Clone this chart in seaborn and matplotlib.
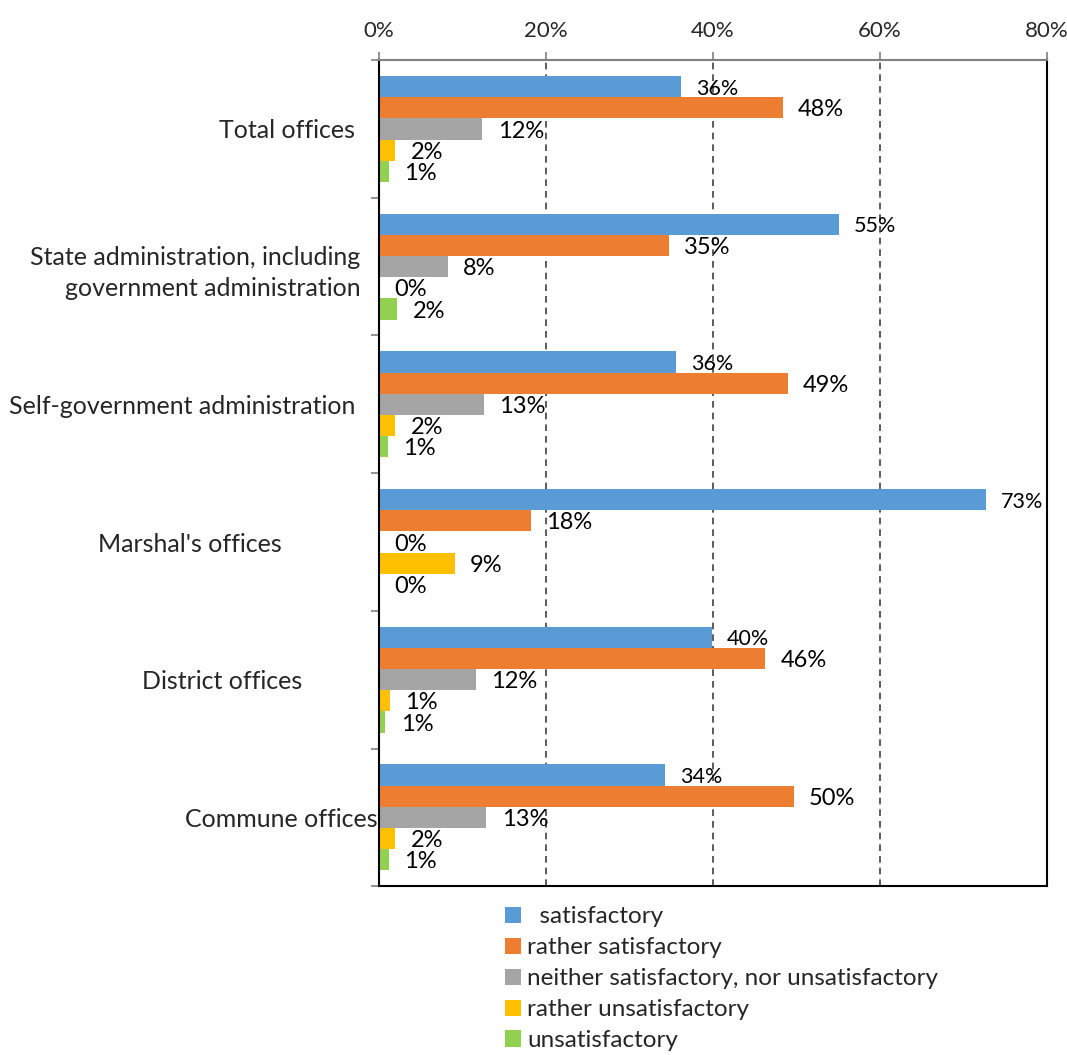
import pandas as pd
import numpy as np
import matplotlib.pyplot as plt
import seaborn as sns
from matplotlib.patches import Patch

categories = ["Total offices",
              "State administration, including\ngovernment administration",
              "Self-government administration",
              "Marshal's offices",
              "District offices",
              "Commune offices"]

satisfactory = [36.2, 55.1, 35.6, 72.7, 39.9, 34.3]
rather_satisfactory = [48.4, 34.7, 49.0, 18.2, 46.3, 49.7]
neither = [12.4, 8.3, 12.6, 0.0, 11.6, 12.9]
rather_unsatisfactory = [2.0, 0.0, 2.0, 9.1, 1.3, 2.0]
unsatisfactory = [1.2, 2.2, 1.1, 0.0, 0.8, 1.2]

series_names = ["satisfactory", "rather satisfactory",
                "neither satisfactory, nor unsatisfactory",
                "rather unsatisfactory", "unsatisfactory"]
legend_labels = ["  satisfactory", "rather satisfactory",
                 "neither satisfactory, nor unsatisfactory",
                 "rather unsatisfactory", "unsatisfactory"]
colors = ["#5B9BD5", "#ED7D31", "#A5A5A5", "#FFC000", "#92D050"]

x_ticks = [0, 20, 40, 60, 80]
x_tick_labels = ["0%", "20%", "40%", "60%", "80%"]

rows = []
for name, vals in zip(series_names,
                      [satisfactory, rather_satisfactory, neither,
                       rather_unsatisfactory, unsatisfactory]):
    for cat, v in zip(categories, vals):
        rows.append({"category": cat, "series": name, "value": v})
df = pd.DataFrame(rows)

sns.set_style("white")
plt.rcParams["font.family"] = ["Lato", "DejaVu Sans"]

fig = plt.figure(figsize=(10.67, 10.55), dpi=100)
ax = fig.add_axes([0.355, 0.160, 0.626, 0.783])

sns.barplot(data=df, y="category", x="value", hue="series",
            order=categories, hue_order=series_names,
            palette=colors, orient="h", width=0.77,
            saturation=1, legend=False, linewidth=0, ax=ax)

# value labels, a touch below bar centre like the original
for i, cont in enumerate(ax.containers):
    vals = [b.get_width() for b in cont]
    txts = ax.bar_label(cont, labels=[f"{v:.0f}%" for v in vals], padding=11,
                        fontsize=15.5 if i == 0 else 17, color="black")
    for t in txts:
        t.xyann = (11, -1.5)

ax.set_xlim(0, 80)
ax.set_ylim(5.5, -0.5)
ax.xaxis.tick_top()
ax.set_xticks(x_ticks)
ax.set_xticklabels(x_tick_labels, fontsize=16)
ax.tick_params(axis="x", which="major", length=6, color="#808080",
               width=1.2, pad=8, top=True, bottom=False)
ax.set_xlabel("")
ax.set_ylabel("")

for x in [20, 40, 60]:
    ax.axvline(x, color="#404040", linestyle=(0, (4, 3)), linewidth=1.2,
               zorder=0)

# category boundary ticks on y axis
ax.set_yticks(np.arange(len(categories)))
ax.set_yticklabels(categories, fontsize=18)
ax.set_yticks(np.arange(-0.5, len(categories)), minor=True)
ax.tick_params(axis="y", which="major", length=0)
ax.tick_params(axis="y", which="minor", length=6, color="#808080",
               width=1.2, left=True)
label_pads = [17, 13, 17, 70, 55, 1]
for t, p in zip(ax.yaxis.get_major_ticks(), label_pads):
    t.set_pad(p)
for lab in ax.get_yticklabels():
    lab.set_multialignment("right")
    lab.set_linespacing(1.45)

for side in ["left", "right", "bottom"]:
    ax.spines[side].set_color("black")
    ax.spines[side].set_linewidth(1.5)
    ax.spines[side].set_visible(True)
ax.spines["top"].set_color("#808080")
ax.spines["top"].set_linewidth(1.5)

handles = [Patch(facecolor=c, edgecolor="none") for c in colors]
fig.legend(handles, legend_labels, loc="upper left",
           bbox_to_anchor=(0.462, 0.1525), frameon=False, fontsize=17.5,
           handlelength=0.65, handleheight=0.65, handletextpad=0.25,
           labelspacing=0.41, borderpad=0)

fig.savefig("out.png", dpi=100)
